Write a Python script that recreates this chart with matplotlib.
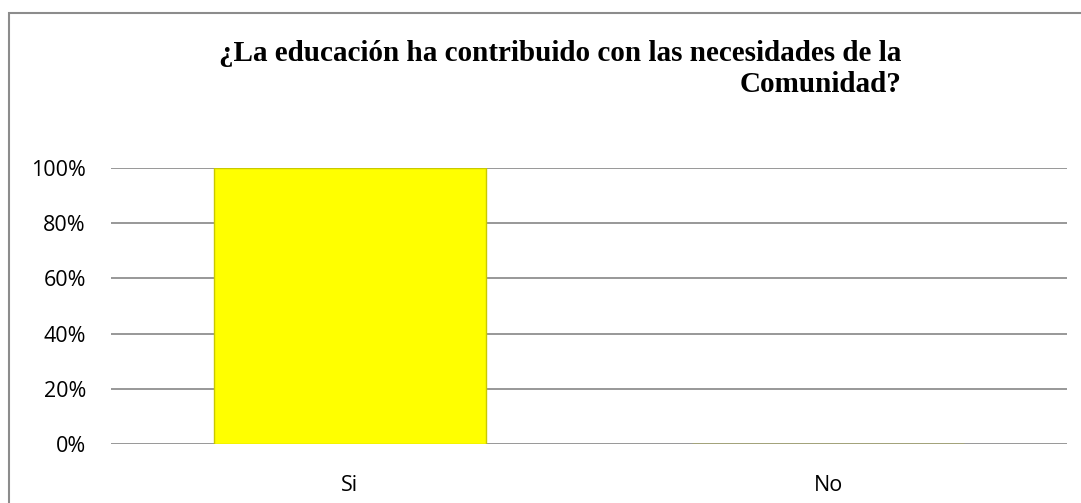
import matplotlib.pyplot as plt
from matplotlib.patches import Rectangle
from matplotlib.ticker import PercentFormatter

categorias = ["Si", "No"]
valores = [1.0, 0.0]
yticks = [0, 0.2, 0.4, 0.6, 0.8, 1.0]

W, H = 1081, 503
fig = plt.figure(figsize=(W / 100, H / 100), dpi=100)

# marco gris del grafico
fig.patches.append(Rectangle((8.5 / W, -0.1), 1.2, 1.1 - 13.5 / H,
                             transform=fig.transFigure, fill=False,
                             edgecolor="#8c8c8c", lw=1.5))

ax = fig.add_axes([111 / W, 1 - 444 / H, (1067 - 111) / W, (444 - 168) / H])

x = range(len(categorias))
ax.bar(x, valores, width=0.57, color="#FFFF00", edgecolor="#c9c900",
       lw=1, zorder=3)

ax.set_xlim(-0.5, 1.5)
ax.set_ylim(0, 1)
ax.set_yticks(yticks)
ax.yaxis.set_major_formatter(PercentFormatter(1.0, decimals=0))
ax.set_xticks(list(x))
ax.set_xticklabels(categorias)
ax.grid(axis="y", color="#868686", lw=1.2, zorder=1)
ax.set_axisbelow(True)
for s in ax.spines.values():
    s.set_visible(False)
ax.tick_params(length=0, labelsize=15.5)
ax.tick_params(axis="y", pad=18)
ax.tick_params(axis="x", pad=22)
for lbl in ax.get_xticklabels() + ax.get_yticklabels():
    lbl.set_fontfamily("Open Sans")

fig.text(560 / W, 1 - 69 / H,
         "¿La educación ha contribuido con las necesidades de la\nComunidad?",
         ha="center", va="center", ma="right", fontsize=21,
         fontweight="bold", family="Liberation Serif", linespacing=1.2)

fig.savefig("out.png", dpi=100)
